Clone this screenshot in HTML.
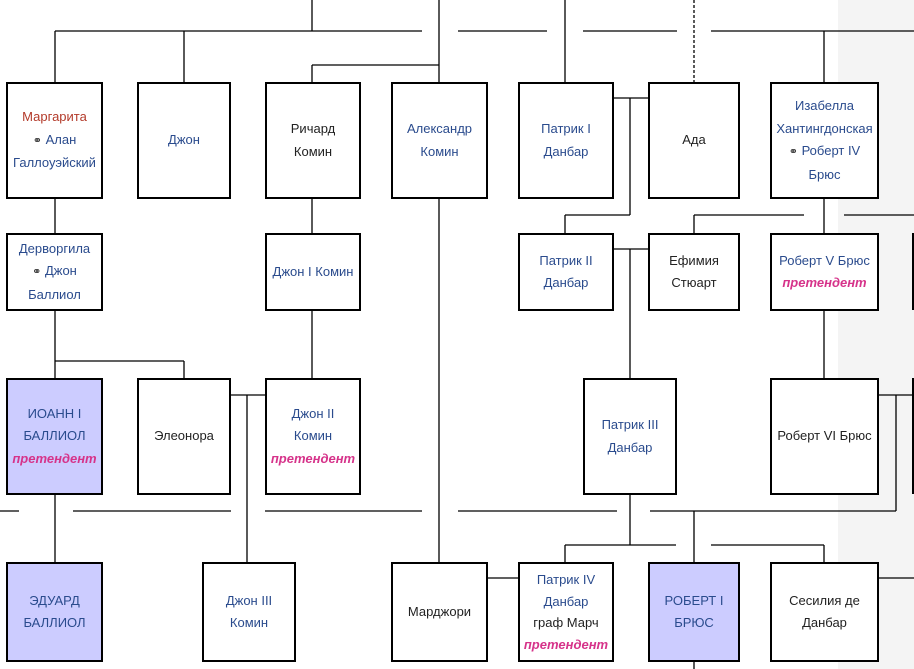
<!DOCTYPE html>
<html><head><meta charset="utf-8"><style>
body{margin:0;width:914px;height:669px;overflow:hidden;background:#fff;position:relative;font-family:"Liberation Sans","DejaVu Sans",sans-serif;}
.bg{position:absolute;left:838px;top:0;width:76px;height:669px;background:#f4f4f4;}
svg{position:absolute;left:0;top:0;}
.b{position:absolute;box-sizing:border-box;border:2px solid #000;background:#fff;display:flex;align-items:center;justify-content:center;text-align:center;font-size:13px;line-height:22.5px;color:#222;}
.f{background:#ccccff;}
.l{color:#2a4b8d;}
.r{color:#b33a2a;}
.p{color:#d6338a;font-weight:bold;font-style:italic;}
.m{font-family:"DejaVu Sans",sans-serif;font-size:11px;color:#222;}
</style></head><body>
<div class="bg"></div>
<svg width="914" height="669" stroke="#000" stroke-width="1.3" fill="none">
<line x1="55" y1="31" x2="422" y2="31"/><line x1="458" y1="31" x2="547" y2="31"/><line x1="583" y1="31" x2="677" y2="31"/><line x1="711" y1="31" x2="914" y2="31"/>
<line x1="312" y1="0" x2="312" y2="31"/><line x1="184" y1="31" x2="184" y2="82"/><line x1="55" y1="31" x2="55" y2="82"/>
<line x1="439" y1="0" x2="439" y2="82"/><line x1="439" y1="198" x2="439" y2="562"/>
<line x1="312" y1="65" x2="439" y2="65"/><line x1="312" y1="65" x2="312" y2="82"/>
<line x1="565" y1="0" x2="565" y2="82"/><line x1="694" y1="0" x2="694" y2="82" stroke-dasharray="3,2"/>
<line x1="824" y1="31" x2="824" y2="82"/>
<line x1="55" y1="198" x2="55" y2="233"/><line x1="312" y1="198" x2="312" y2="233"/>
<line x1="613" y1="98" x2="648" y2="98"/><line x1="630" y1="98" x2="630" y2="215"/><line x1="565" y1="215" x2="630" y2="215"/><line x1="565" y1="215" x2="565" y2="233"/>
<line x1="694" y1="215" x2="804" y2="215"/><line x1="694" y1="215" x2="694" y2="233"/><line x1="844" y1="215" x2="914" y2="215"/><line x1="824" y1="198" x2="824" y2="233"/>
<line x1="55" y1="310" x2="55" y2="378"/><line x1="55" y1="361" x2="184" y2="361"/><line x1="184" y1="361" x2="184" y2="378"/>
<line x1="312" y1="310" x2="312" y2="378"/>
<line x1="613" y1="249" x2="648" y2="249"/><line x1="630" y1="249" x2="630" y2="378"/>
<line x1="824" y1="310" x2="824" y2="378"/>
<line x1="230" y1="395" x2="265" y2="395"/><line x1="247" y1="395" x2="247" y2="562"/>
<line x1="878" y1="395" x2="912" y2="395"/><line x1="896" y1="395" x2="896" y2="511"/>
<line x1="0" y1="511" x2="19" y2="511"/><line x1="73" y1="511" x2="231" y2="511"/><line x1="265" y1="511" x2="422" y2="511"/><line x1="458" y1="511" x2="617" y2="511"/><line x1="650" y1="511" x2="896" y2="511"/>
<line x1="55" y1="494" x2="55" y2="562"/>
<line x1="630" y1="494" x2="630" y2="545"/><line x1="565" y1="545" x2="676" y2="545"/><line x1="565" y1="545" x2="565" y2="562"/>
<line x1="711" y1="545" x2="824" y2="545"/><line x1="824" y1="545" x2="824" y2="562"/>
<line x1="694" y1="511" x2="694" y2="669"/>
<line x1="487" y1="578" x2="518" y2="578"/><line x1="878" y1="578" x2="914" y2="578"/>
<line x1="913" y1="233" x2="913" y2="310" stroke-width="2"/><line x1="913" y1="378" x2="913" y2="494" stroke-width="2"/>
</svg>
<div class="b" style="left:6px;top:82px;width:97px;height:117px"><div><span class="r">Маргарита</span><br><span class="l"><span class="m">⚭</span> Алан Галлоуэйский</span></div></div>
<div class="b l" style="left:137px;top:82px;width:94px;height:117px">Джон</div>
<div class="b" style="left:265px;top:82px;width:96px;height:117px">Ричард<br>Комин</div>
<div class="b l" style="left:391px;top:82px;width:97px;height:117px">Александр<br>Комин</div>
<div class="b l" style="left:518px;top:82px;width:96px;height:117px">Патрик I<br>Данбар</div>
<div class="b" style="left:648px;top:82px;width:92px;height:117px">Ада</div>
<div class="b l" style="left:770px;top:82px;width:109px;height:117px"><div>Изабелла Хантингдонская<br><span class="m">⚭</span> Роберт IV<br>Брюс</div></div>
<div class="b l" style="left:6px;top:233px;width:97px;height:78px"><div>Дерворгила<br><span class="m">⚭</span> Джон<br>Баллиол</div></div>
<div class="b l" style="left:265px;top:233px;width:96px;height:78px">Джон I Комин</div>
<div class="b l" style="left:518px;top:233px;width:96px;height:78px">Патрик II<br>Данбар</div>
<div class="b" style="left:648px;top:233px;width:92px;height:78px">Ефимия<br>Стюарт</div>
<div class="b" style="left:770px;top:233px;width:109px;height:78px"><div><span class="l">Роберт V Брюс</span><br><span class="p">претендент</span></div></div>
<div class="b f" style="left:6px;top:378px;width:97px;height:117px"><div><span class="l">ИОАНН I<br>БАЛЛИОЛ</span><br><span class="p">претендент</span></div></div>
<div class="b" style="left:137px;top:378px;width:94px;height:117px">Элеонора</div>
<div class="b" style="left:265px;top:378px;width:96px;height:117px"><div><span class="l">Джон II<br>Комин</span><br><span class="p">претендент</span></div></div>
<div class="b l" style="left:583px;top:378px;width:94px;height:117px">Патрик III<br>Данбар</div>
<div class="b" style="left:770px;top:378px;width:109px;height:117px">Роберт VI Брюс</div>
<div class="b f l" style="left:6px;top:562px;width:97px;height:100px">ЭДУАРД<br>БАЛЛИОЛ</div>
<div class="b l" style="left:202px;top:562px;width:94px;height:100px">Джон III<br>Комин</div>
<div class="b" style="left:391px;top:562px;width:97px;height:100px">Марджори</div>
<div class="b" style="left:518px;top:562px;width:96px;height:100px;line-height:21.5px"><div><span class="l">Патрик IV<br>Данбар</span><br>граф Марч<br><span class="p">претендент</span></div></div>
<div class="b f l" style="left:648px;top:562px;width:92px;height:100px">РОБЕРТ I<br>БРЮС</div>
<div class="b" style="left:770px;top:562px;width:109px;height:100px">Сесилия де<br>Данбар</div>
</body></html>
